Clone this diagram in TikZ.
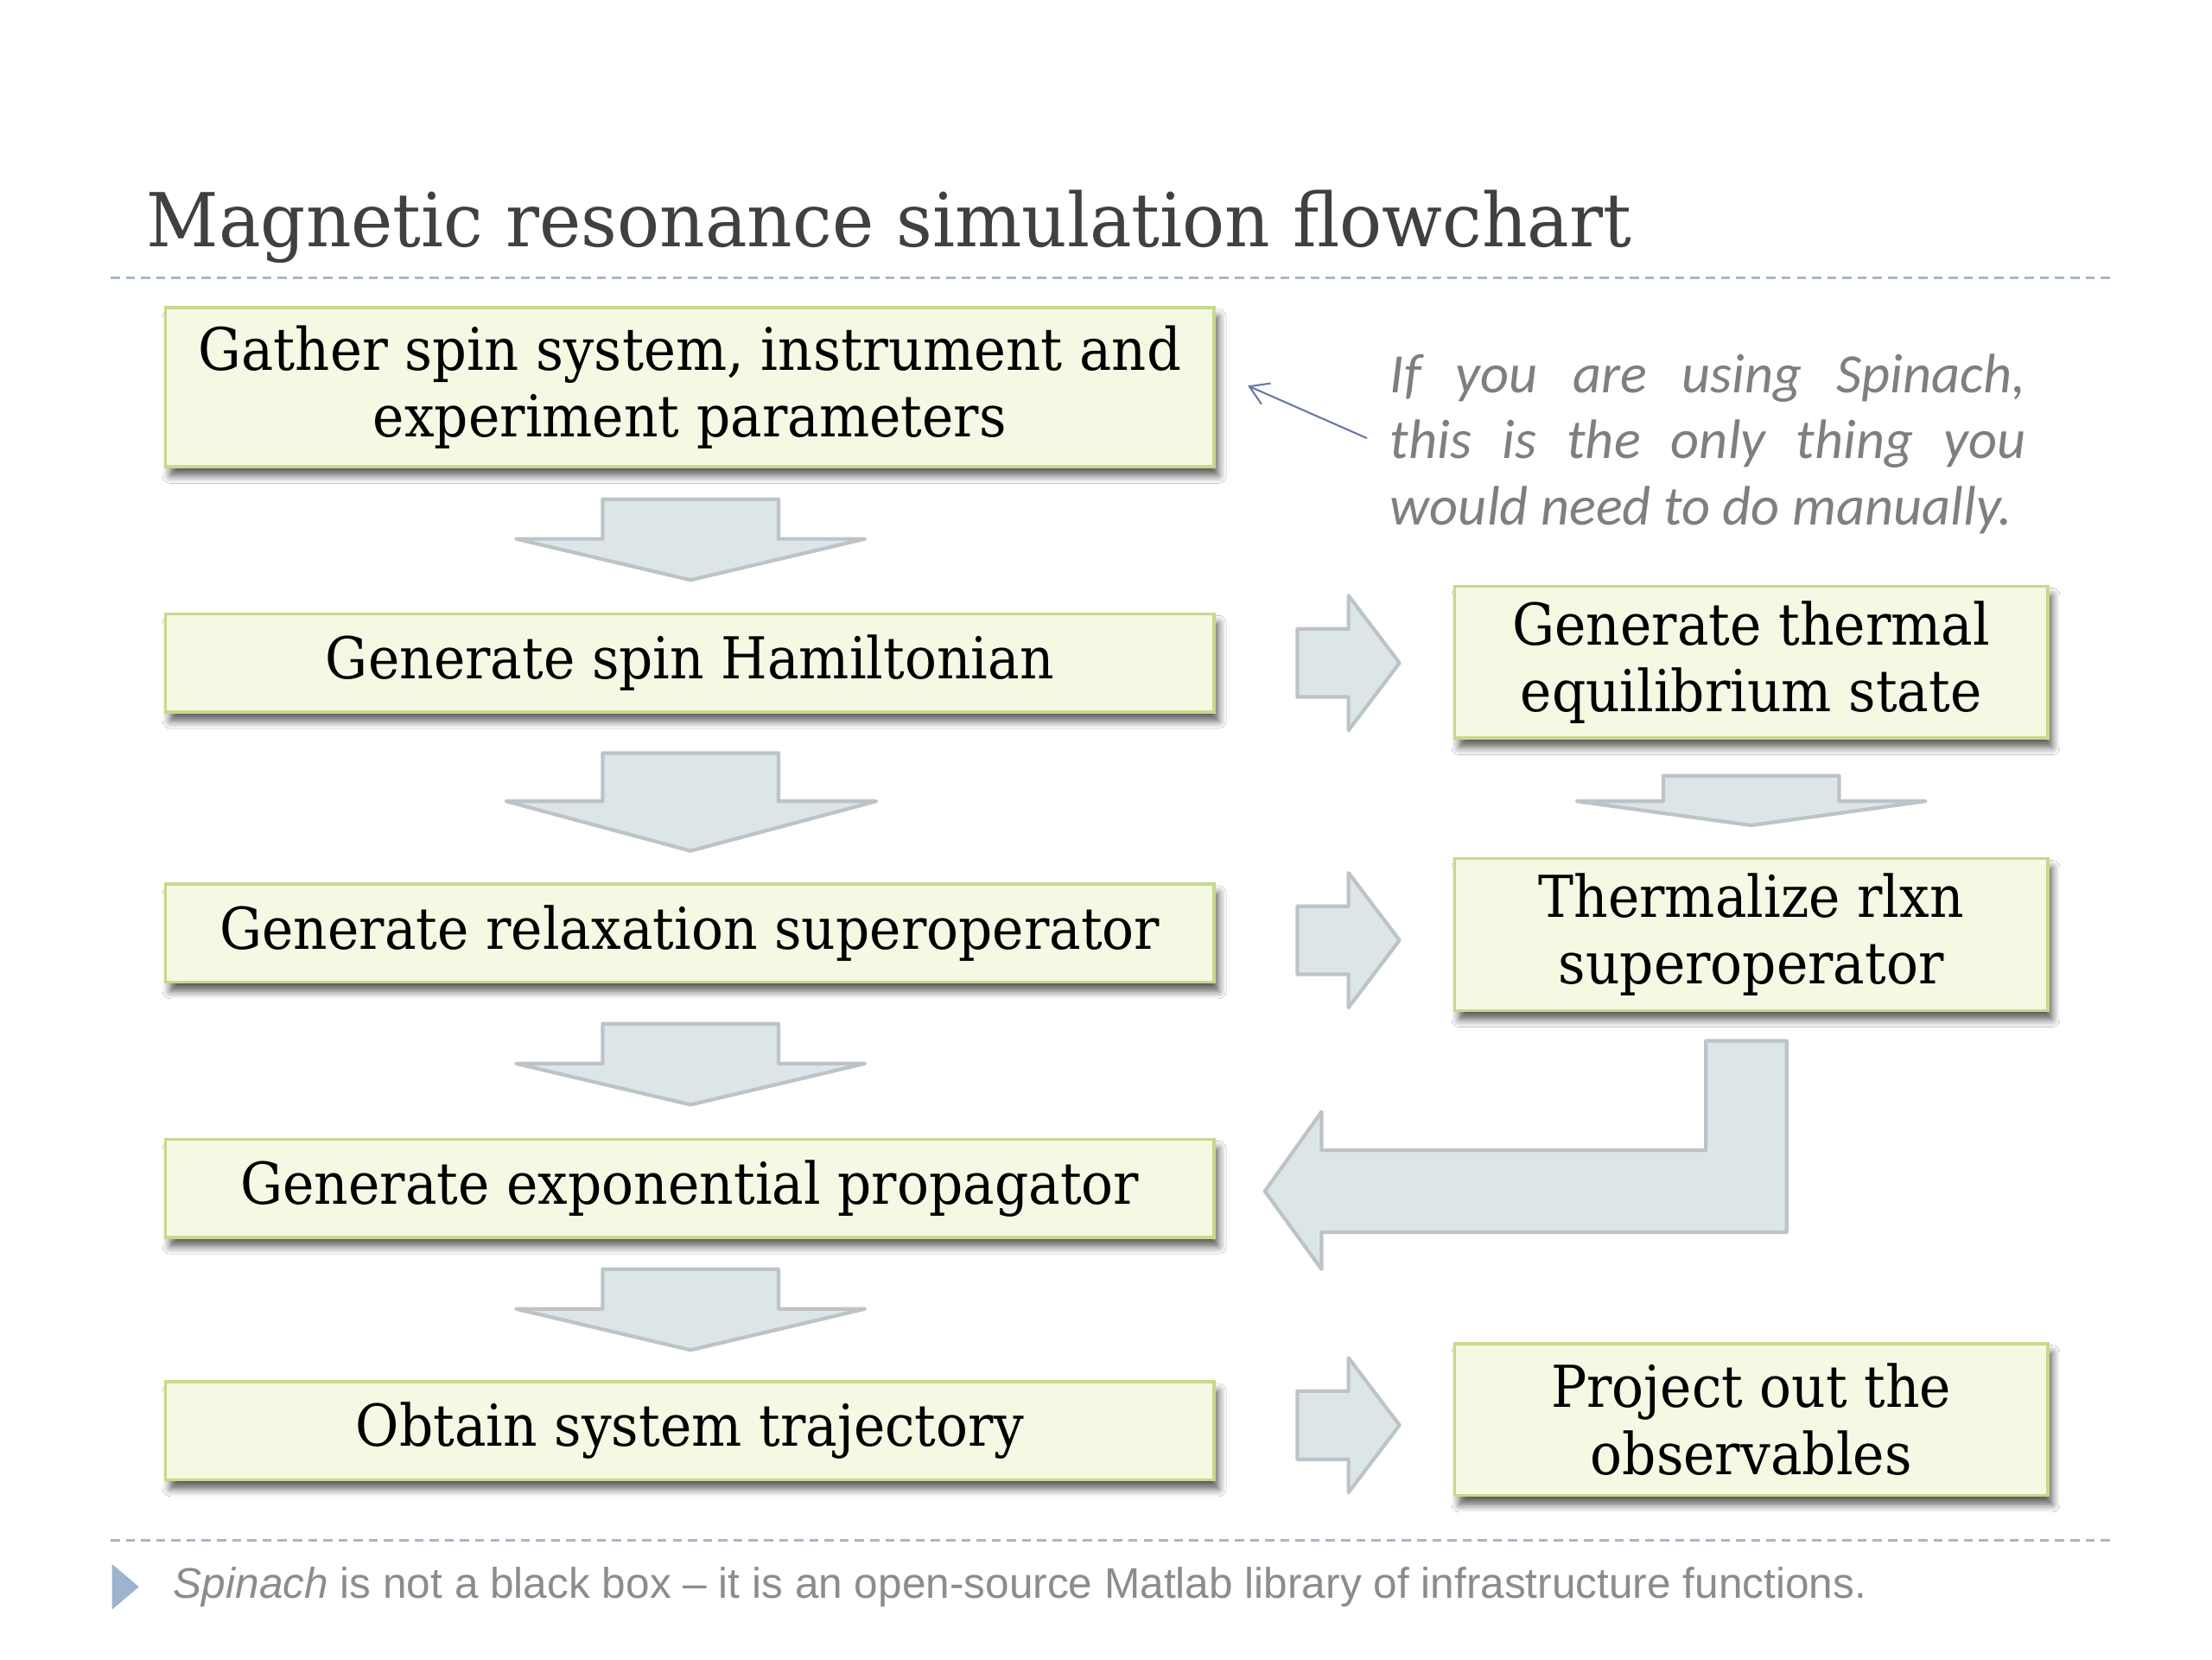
\documentclass[tikz,border=0pt]{standalone}
\usepackage{fontspec}
\setmainfont{DejaVu Serif}[FakeStretch=0.92]
\newfontfamily\titlefont{DejaVu Serif}[FakeStretch=0.947]
\newfontfamily\notefont{Carlito}
\newfontfamily\footfont{Liberation Sans}
\usetikzlibrary{arrows.meta,shadows.blur}
\definecolor{boxfill}{HTML}{F5F8E3}
\definecolor{boxdraw}{HTML}{C6D98C}
\definecolor{arrfill}{HTML}{DCE6E9}
\definecolor{arrdraw}{HTML}{BDC3C6}
\definecolor{dashc}{HTML}{A7B7CC}
\definecolor{titlec}{HTML}{404040}
\definecolor{notec}{HTML}{7F7F7F}
\definecolor{footc}{HTML}{8C8C8C}
\definecolor{tric}{HTML}{9DB4CE}
\definecolor{pointc}{HTML}{6A78A8}
\tikzset{
  box/.style={draw=boxdraw, fill=boxfill, line width=1pt, inner sep=0pt, outer sep=0pt,
    align=center, font=\fontsize{19}{22}\selectfont,
    blur shadow={shadow xshift=1.5pt, shadow yshift=-3pt, shadow blur radius=2.5pt,
      shadow blur steps=6, shadow opacity=65}},
  lbox/.style={box, minimum width=12.127cm, minimum height=1.132cm},
  tallbox/.style={box, minimum width=12.127cm, minimum height=1.838cm},
  rbox/.style={box, minimum width=6.86cm, minimum height=1.756cm},
  blk/.style={fill=arrfill, draw=arrdraw, line width=1.2pt, line join=round},
  rule/.style={draw=dashc, line width=0.9pt, dash pattern=on 3pt off 2pt},
  pointer/.style={draw=pointc, line width=0.6pt, -{Straight Barb[length=6pt,width=7.5pt]}}
}
\begin{document}
\begin{tikzpicture}[x=0.01641cm, y=-0.01641cm]
\useasboundingbox (0,0) rectangle (1560,1170);
\fill[white] (0,0) rectangle (1560,1170);

% title and rules
\node[anchor=base west, inner sep=0pt, text=titlec, font=\titlefont\fontsize{24.5}{28}\selectfont] (title) at (103,174) {Magnetic resonance simulation flowchart};
\draw[rule] (78,196) -- (1490,196);
\draw[rule] (78,1086) -- (1490,1086);

% left column boxes
\node[tallbox] (b1) at (486.5,273) {{\fontsize{19.3}{22}\selectfont Gather spin system, instrument and}\\experiment parameters};
\node[lbox] (b2) at (486.5,467.5) {Generate spin Hamiltonian};
\node[lbox] (b3) at (486.5,658) {Generate relaxation superoperator};
\node[lbox] (b4) at (486.5,838) {Generate exponential propagator};
\node[lbox] (b5) at (486.5,1009) {Obtain system trajectory};

% right column boxes
\node[rbox] (r1) at (1235,467) {Generate thermal\\equilibrium state};
\node[rbox] (r2) at (1235,659) {Thermalize rlxn\\superoperator};
\node[rbox] (r3) at (1235,1001) {Project out the\\observables};

% down block arrows (left)
\draw[blk] (425,352) -- (549,352) -- (549,380) -- (610,380) -- (487,409) -- (364,380) -- (425,380) -- cycle;
\draw[blk] (425,531) -- (549,531) -- (549,565) -- (618,565) -- (487,600) -- (357,565) -- (425,565) -- cycle;
\draw[blk] (425,722) -- (549,722) -- (549,750) -- (610,750) -- (487,779) -- (364,750) -- (425,750) -- cycle;
\draw[blk] (425,895) -- (549,895) -- (549,923) -- (610,923) -- (487,952) -- (364,923) -- (425,923) -- cycle;

% down block arrow (right)
\draw[blk] (1173,547) -- (1297,547) -- (1297,565) -- (1358,565) -- (1235,582) -- (1112,565) -- (1173,565) -- cycle;

% right block arrows
\draw[blk] (915,443.5) -- (951,443.5) -- (951,420) -- (987,467.5) -- (951,515) -- (951,491.5) -- (915,491.5) -- cycle;
\draw[blk] (915,639) -- (951,639) -- (951,615.5) -- (987,663) -- (951,710.5) -- (951,687) -- (915,687) -- cycle;
\draw[blk] (915,981) -- (951,981) -- (951,957.5) -- (987,1005) -- (951,1052.5) -- (951,1029) -- (915,1029) -- cycle;

% bent block arrow
\draw[blk] (892,840) -- (932,784) -- (932,811) -- (1203,811) -- (1203,734) -- (1260,734) -- (1260,869) -- (932,869) -- (932,895) -- cycle;

% note
\node[anchor=base west, inner sep=0pt, text width=209.2pt, align=justify, text=notec,
  font=\notefont\itshape\fontsize{18.3}{21.7}\selectfont] (note) at (980,277)
  {If you are using Spinach,\linebreak this is the only thing you\linebreak would need to do manually.};
\coordinate (ntail) at (964,309);
\coordinate (ntip) at (880,272);
\draw[pointer] (ntail) -- (ntip);

% footer
\fill[tric] (79,1103) -- (98,1119) -- (79,1135) -- cycle;
\node[anchor=base west, inner sep=0pt, text=footc, font=\footfont\fontsize{14.1}{16}\selectfont] (foot) at (122,1127)
  {\textit{Spinach} is not a black box – it is an open-source Matlab library of infrastructure functions.};
\end{tikzpicture}
\end{document}
